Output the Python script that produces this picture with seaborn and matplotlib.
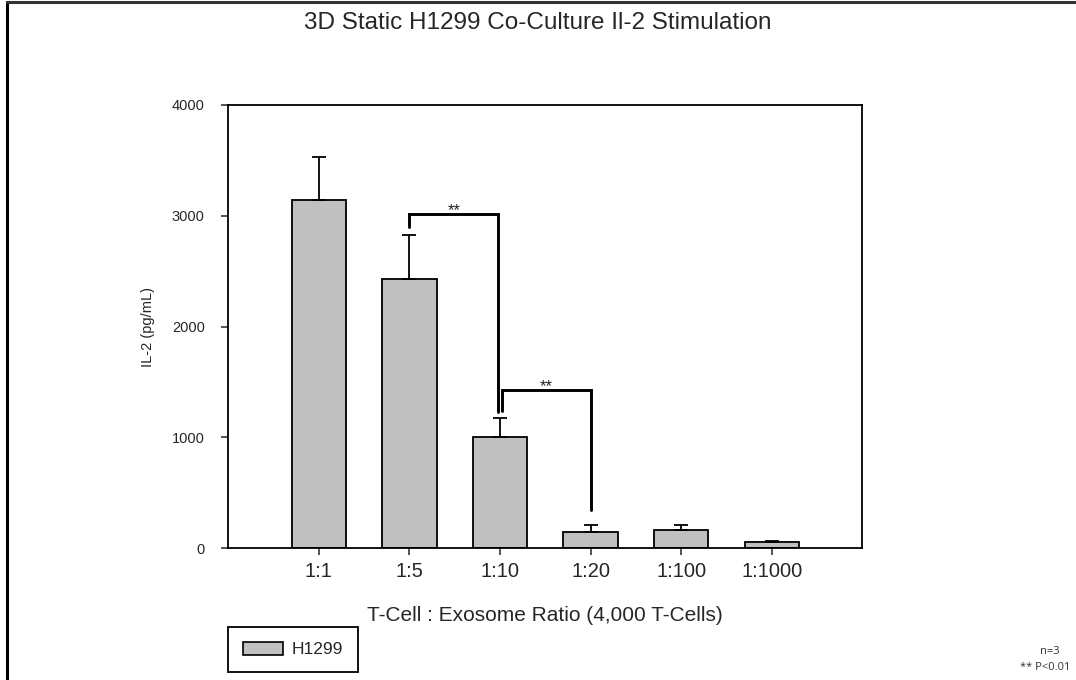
import matplotlib
matplotlib.use("Agg")
import matplotlib.pyplot as plt
from matplotlib.lines import Line2D
from matplotlib.patches import Patch
import numpy as np
import pandas as pd
import seaborn as sns

# IL-2 release per T-cell : exosome ratio (mean and SEM, pg/mL)
ratios = ["1:1", "1:5", "1:10", "1:20", "1:100", "1:1000"]
il2_mean = [3140, 2427, 1002, 144, 162, 57]
il2_err = [391, 397, 172, 63, 48, 9]

# Significance brackets: (left group, right group), bar height, leg ends
sig_pairs = [(1, 2), (2, 3)]
sig_height = [3020, 1430]
sig_left_end = [2896, 1235]
sig_right_end = [1231, 345]
sig_label = ["**", "**"]

sns.set_style("ticks")
plt.rcParams["font.family"] = ["Liberation Sans", "DejaVu Sans"]

df = pd.DataFrame({"ratio": ratios, "il2": il2_mean})

fig = plt.figure(figsize=(10.76, 6.8), dpi=100)
ax = fig.add_axes([228.3 / 1076, 1 - 548.3 / 680, 634 / 1076, 443.3 / 680])

sns.barplot(data=df, x="ratio", y="il2", color="#c0c0c0", saturation=1,
            edgecolor="black", linewidth=1.3, width=0.6, errorbar=None, ax=ax)

xpos = np.arange(len(ratios))
ax.errorbar(xpos, il2_mean, yerr=[np.zeros(len(il2_err)), il2_err],
            fmt="none", ecolor="black", elinewidth=1.3, capsize=5,
            capthick=1.3, zorder=1)

for (a, b), h, le, re, lab, off in zip(sig_pairs, sig_height, sig_left_end,
                                       sig_right_end, sig_label, [0.0, 0.025]):
    xa = a + off
    xb = b - 0.02 if off == 0 else b
    ax.plot([xa, xa, xb, xb], [le, h, h, re], color="black", lw=2.1,
            solid_joinstyle="miter", zorder=4)
    ax.text((xa + xb) / 2, h - 10, lab, ha="center", va="baseline",
            fontsize=12, color="#222222")

ax.set_xlim(-1, 6)
ax.set_ylim(0, 4000)
ax.set_yticks([0, 1000, 2000, 3000, 4000])
ax.tick_params(axis="x", labelsize=14.5, length=5, width=1.1, direction="out",
               pad=5)
ax.tick_params(axis="y", labelsize=10.5, length=5, width=1.1, direction="out",
               pad=12)
for s in ax.spines.values():
    s.set_visible(True)
    s.set_linewidth(1.3)
    s.set_color("black")

ax.set_xlabel("T-Cell : Exosome Ratio (4,000 T-Cells)", fontsize=15)
ax.xaxis.set_label_coords(0.5, -0.152)
ax.xaxis.label.set_va("center")
ax.set_ylabel("IL-2 (pg/mL)", fontsize=10.5)
ax.yaxis.set_label_coords(-0.1267, 0.5)
ax.yaxis.label.set_va("center")

fig.text(0.5, 1 - 23 / 680, "3D Static H1299 Co-Culture Il-2 Stimulation",
         ha="center", va="center", fontsize=17.5)

leg = fig.legend(handles=[Patch(facecolor="#c0c0c0", edgecolor="black",
                                linewidth=1.2, label="H1299")],
                 loc="upper left", bbox_to_anchor=(228 / 1076, 1 - 627 / 680),
                 borderaxespad=0, fancybox=False, fontsize=12.5,
                 handlelength=2.3, handleheight=0.8, borderpad=0.85,
                 handletextpad=0.5, framealpha=1)
leg.get_frame().set_edgecolor("black")
leg.get_frame().set_linewidth(1.3)

note_font = ["Open Sans", "DejaVu Sans"]
fig.text(1050 / 1076, 1 - 652 / 680, "n=3", ha="center", va="center",
         fontsize=8, color="#333333", family=note_font)
fig.text(1070 / 1076, 1 - 667 / 680, "** P<0.01", ha="right", va="center",
         fontsize=8, color="#333333", family=note_font)

# Page frame edges along the left and top
fig.add_artist(Line2D([6.5 / 1076, 6.5 / 1076], [0, 1 - 2 / 680],
                      transform=fig.transFigure, color="black", lw=2.2))
fig.add_artist(Line2D([6.5 / 1076, 1], [1 - 2 / 680, 1 - 2 / 680],
                      transform=fig.transFigure, color="#333333", lw=2.2))

fig.savefig("out.png", dpi=100)
